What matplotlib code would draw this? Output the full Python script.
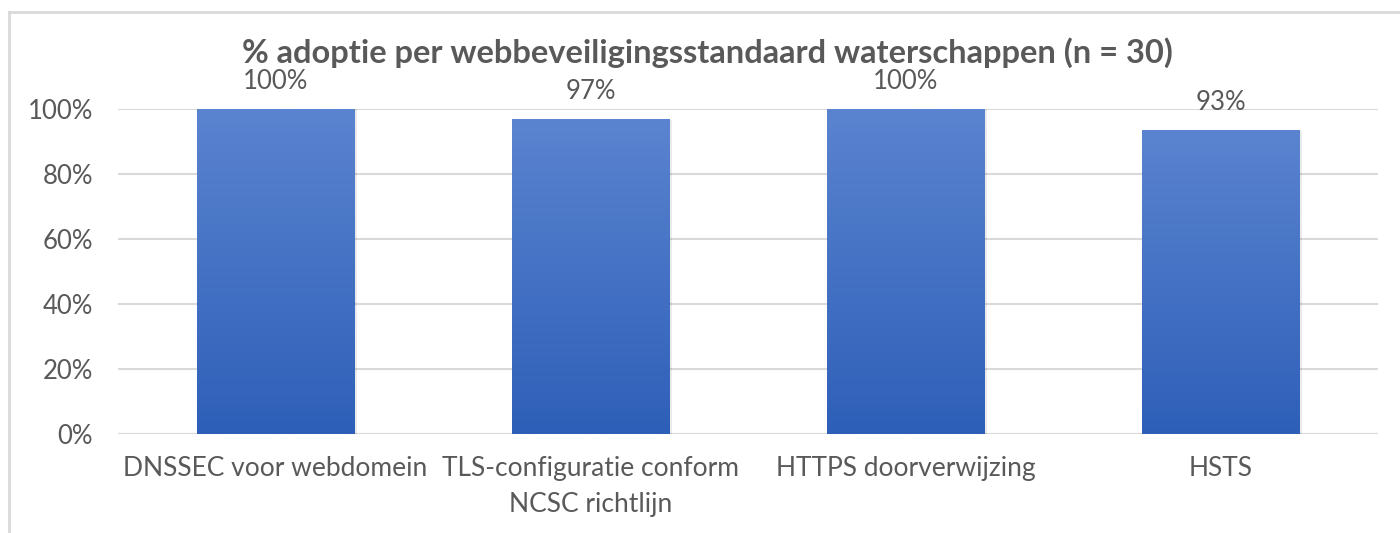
import numpy as np
import matplotlib
matplotlib.use("Agg")
import matplotlib.pyplot as plt
from matplotlib.lines import Line2D

# ── data ──────────────────────────────────────────────────────────────────
categories = ["DNSSEC voor webdomein", "TLS-configuratie conform\nNCSC richtlijn",
              "HTTPS doorverwijzing", "HSTS"]
adoption = [1.00, 0.967, 1.00, 0.933]
labels = ["100%", "97%", "100%", "93%"]
yticks = [0.0, 0.2, 0.4, 0.6, 0.8, 1.0]
ytick_labels = ["0%", "20%", "40%", "60%", "80%", "100%"]
title = "% adoptie per webbeveiligingsstandaard waterschappen (n = 30)"

TEXT = "#595959"
GRID = "#D9D9D9"
TOP_C = np.array([0x5B, 0x84, 0xD0]) / 255
BOT_C = np.array([0x2E, 0x5F, 0xB8]) / 255

plt.rcParams["font.family"] = ["Lato", "DejaVu Sans"]

fig = plt.figure(figsize=(14, 5.33), dpi=100)
fig.set_facecolor("white")
ax = fig.add_axes([118 / 1400, 1 - 434 / 533, 1260 / 1400, 325 / 533])

x = np.arange(len(categories))
bars = ax.bar(x, adoption, width=0.5, color="none", zorder=3)

# vertical gradient fill per bar
grad = np.linspace(0, 1, 256)[:, None, None]
img = TOP_C * (1 - grad) + BOT_C * grad
for b in bars:
    x0, w, h = b.get_x(), b.get_width(), b.get_height()
    # soft shadow
    ax.bar(x0 + w / 2 + 0.004, h, width=w + 0.008, color="#000000", alpha=0.08, zorder=2)
    ax.imshow(img, extent=[x0, x0 + w, 0, h], origin="upper", aspect="auto", zorder=3)

for xi, v, lab in zip(x, adoption, labels):
    ax.annotate(lab, (xi, v), xytext=(0, 20), textcoords="offset points",
                ha="center", va="center", fontsize=18.5, color=TEXT, annotation_clip=False)

ax.set_xlim(-0.5, len(categories) - 0.5)
ax.set_ylim(0, 1.0)
ax.set_yticks(yticks)
ax.set_yticklabels(ytick_labels)
ax.set_xticks(x)
ax.set_xticklabels(categories, linespacing=1.55)
ax.tick_params(axis="both", length=0, labelsize=18.5, labelcolor=TEXT)
ax.tick_params(axis="x", labelsize=19, pad=16)
ax.tick_params(axis="y", pad=18)
ax.grid(axis="y", color=GRID, linewidth=1.5, zorder=0)
for s in ax.spines.values():
    s.set_visible(False)
ax.axhline(0, color=GRID, linewidth=1.5, zorder=1)

fig.text(707 / 1400, 1 - 53 / 533, title, ha="center", va="center",
         fontsize=23.5, fontweight="bold", color=TEXT)

# chart frame
fig.add_artist(Line2D([9 / 1400, 9 / 1400], [0, 1 - 12 / 533], color=GRID, linewidth=2))
fig.add_artist(Line2D([9 / 1400, 1], [1 - 12 / 533, 1 - 12 / 533], color=GRID, linewidth=2))

fig.savefig("out.png", dpi=100, facecolor=fig.get_facecolor())
